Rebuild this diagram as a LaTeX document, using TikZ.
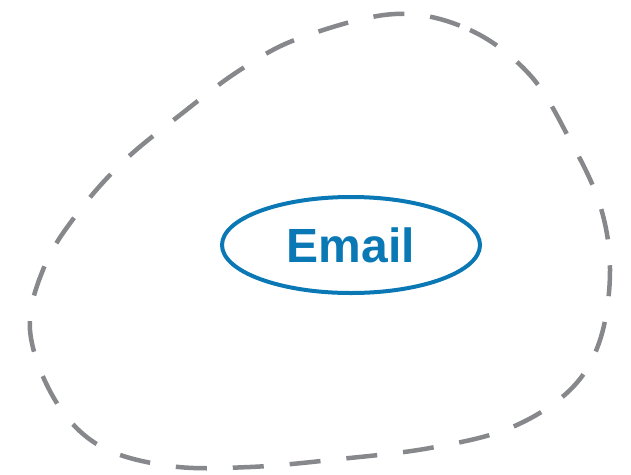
\documentclass[tikz,border=0pt]{standalone}
\usepackage{fontspec}
\setmainfont{Liberation Sans}
\usetikzlibrary{shapes.geometric}

\definecolor{blobgray}{HTML}{87888B}
\definecolor{mailblue}{HTML}{0A78B5}

\begin{document}
\begin{tikzpicture}[
  x=1pt, y=-1pt,
  blob/.style={draw=blobgray, line width=4.5pt, dash pattern=on 31pt off 26pt},
  oval/.style={ellipse, draw=mailblue, line width=4pt, minimum width=258pt,
    minimum height=96pt, inner sep=0pt, text=mailblue,
    font=\fontsize{48}{48}\selectfont\bfseries}
]
\useasboundingbox (0,0) rectangle (631,474);
% dashed boundary
\draw[blob] plot[smooth cycle, tension=0.6] coordinates {
  (395,14) (470,30) (530,75) (570,140) (600,205) (610,270) (600,340)
  (570,390) (510,428) (430,448) (340,459) (250,467) (170,466) (100,446)
  (55,400) (30,330) (45,265) (80,210) (125,160) (180,115) (240,70) (300,38)};
\node[oval] (email) at (351,245) {Email};
\end{tikzpicture}
\end{document}
